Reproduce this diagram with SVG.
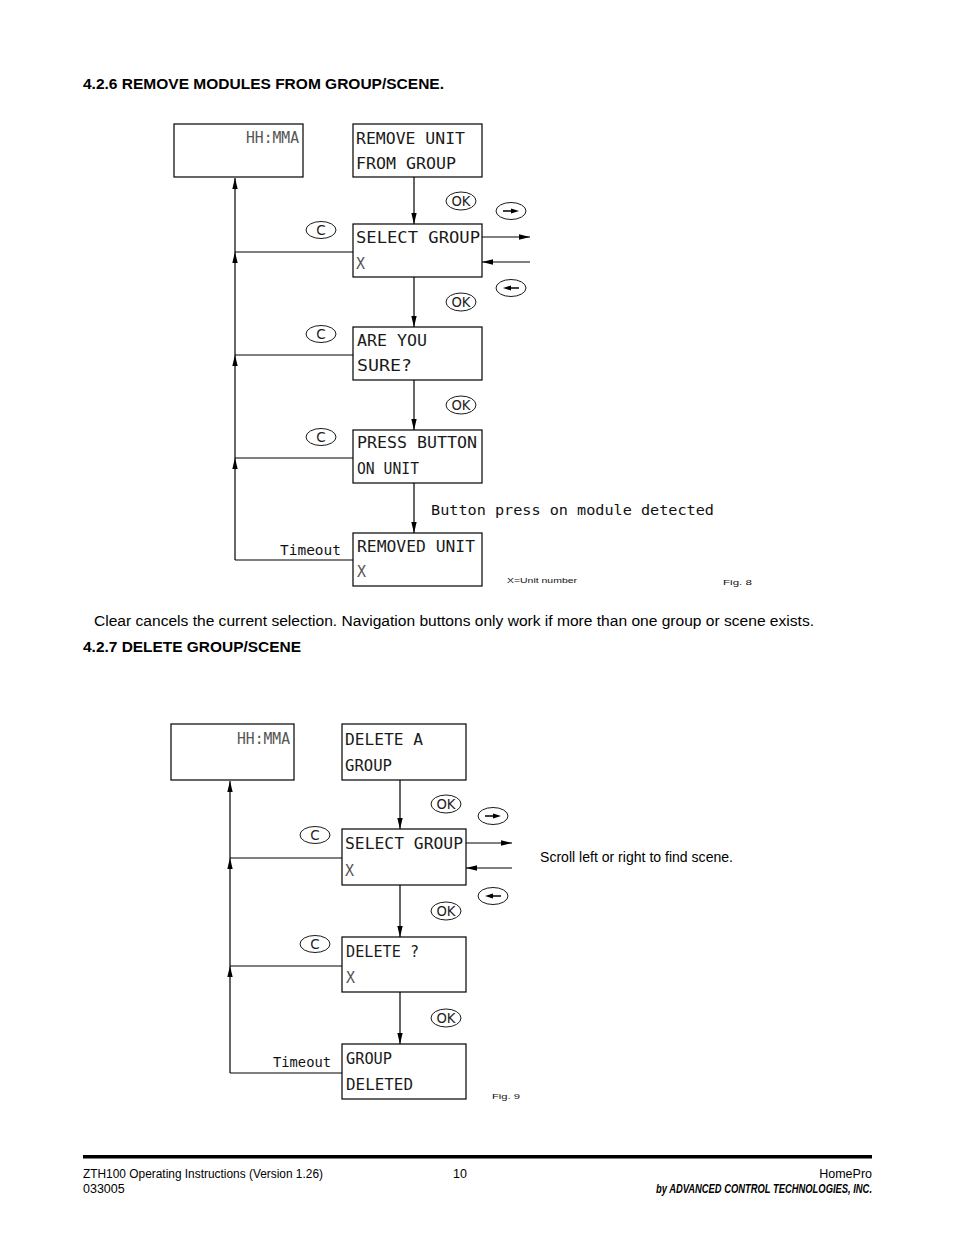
<svg xmlns="http://www.w3.org/2000/svg" width="954" height="1235" viewBox="0 0 954 1235">
<style>
.box{fill:#fff;stroke:#000;stroke-width:1.2}
.ln{fill:none;stroke:#000;stroke-width:1.2}
.arr{fill:none;stroke:#000;stroke-width:1.2;marker-end:url(#ah)}
.cad{font-family:"DejaVu Sans Mono",monospace;font-size:16px;fill:#1a1a1a}
.thin{font-family:"DejaVu Sans Mono",monospace;font-size:15px;fill:#555}
.lbl{font-family:"DejaVu Sans Mono",monospace;font-size:14px;fill:#111}
.btn{fill:#fff;stroke:#000;stroke-width:0.9}
.btxt{font-family:"DejaVu Sans",sans-serif;font-size:13.5px;fill:#222;text-anchor:middle}
.small{font-family:"Liberation Sans",Arial,sans-serif;font-size:8px;fill:#111}
.h{font-family:"Liberation Sans",Arial,sans-serif;font-size:14px;font-weight:bold;fill:#000}
.body{font-family:"Liberation Sans",Arial,sans-serif;font-size:14px;fill:#000}
.foot{font-family:"Liberation Sans",Arial,sans-serif;font-size:12.5px;fill:#000}
</style>
<defs>
<marker id="ah" markerUnits="userSpaceOnUse" markerWidth="11" markerHeight="7" viewBox="0 0 11 7" refX="11" refY="3.5" orient="auto">
<path d="M0,0.8 L11,3.5 L0,6.2 z" fill="#000"/>
</marker>
<g id="okb"><ellipse cx="0" cy="0" rx="15" ry="9" class="btn"/><text x="0" y="5" class="btxt" textLength="19" lengthAdjust="spacingAndGlyphs">OK</text></g>
<g id="cb"><ellipse cx="0" cy="0" rx="15" ry="8.5" class="btn"/><text x="0" y="5" class="btxt">C</text></g>
<g id="rb"><ellipse cx="0" cy="0" rx="15" ry="8.5" class="btn"/><path d="M-8,0 H2" stroke="#000" stroke-width="1.5"/><path d="M0,-2.5 L8,0 L0,2.5 z" fill="#000"/></g>
<g id="lb"><ellipse cx="0" cy="0" rx="15" ry="8.5" class="btn"/><path d="M-2,0 H8" stroke="#000" stroke-width="1.5"/><path d="M0,-2.5 L-8,0 L0,2.5 z" fill="#000"/></g>
</defs>
<rect width="954" height="1235" fill="#fff"/>

<text x="83" y="89" class="h" textLength="361" lengthAdjust="spacingAndGlyphs">4.2.6 REMOVE MODULES FROM GROUP/SCENE.</text>

<!-- Fig 8 connectors -->
<g id="fig8-connectors">
<path class="arr" d="M414,177 V224"/>
<path class="arr" d="M414,277 V327"/>
<path class="arr" d="M414,380 V430"/>
<path class="arr" d="M414,483 V533"/>
<path class="ln" d="M353,252 H235"/>
<path class="ln" d="M353,355 H235"/>
<path class="ln" d="M353,458 H235"/>
<path class="ln" d="M353,560 H235"/>
<path class="arr" d="M235,560 V458"/>
<path class="arr" d="M235,458 V355"/>
<path class="arr" d="M235,355 V252"/>
<path class="arr" d="M235,252 V178"/>
<path class="arr" d="M482,237 H530"/>
<path class="arr" d="M530,262 H482"/>
</g>
<g id="fig8-buttons">
<use href="#okb" x="461" y="201"/>
<use href="#okb" x="461" y="302"/>
<use href="#okb" x="461" y="405"/>
<use href="#cb" x="321" y="230"/>
<use href="#cb" x="321" y="334"/>
<use href="#cb" x="321" y="437"/>
<use href="#rb" x="511" y="211"/>
<use href="#lb" x="511" y="288"/>
</g>
<g id="f8-clock"><rect class="box" x="174" y="124" width="129" height="53"/><text x="299" y="143" class="thin" text-anchor="end" textLength="53" lengthAdjust="spacingAndGlyphs">HH:MMA</text></g>
<g id="f8-remove"><rect class="box" x="353" y="124" width="129" height="53"/><text x="356" y="144" class="cad" textLength="109" lengthAdjust="spacingAndGlyphs">REMOVE UNIT</text><text x="356" y="169" class="cad" textLength="100" lengthAdjust="spacingAndGlyphs">FROM GROUP</text></g>
<g id="f8-select"><rect class="box" x="353" y="224" width="129" height="53"/><text x="356" y="243" class="cad" textLength="124" lengthAdjust="spacingAndGlyphs">SELECT GROUP</text><text x="356" y="269" class="thin">X</text></g>
<g id="f8-sure"><rect class="box" x="353" y="327" width="129" height="53"/><text x="357" y="346" class="cad" textLength="70" lengthAdjust="spacingAndGlyphs">ARE YOU</text><text x="357" y="371" class="cad" textLength="55" lengthAdjust="spacingAndGlyphs">SURE?</text></g>
<g id="f8-press"><rect class="box" x="353" y="430" width="129" height="53"/><text x="357" y="448" class="cad" textLength="120" lengthAdjust="spacingAndGlyphs">PRESS BUTTON</text><text x="357" y="474" class="cad" textLength="62" lengthAdjust="spacingAndGlyphs">ON UNIT</text></g>
<g id="f8-removed"><rect class="box" x="353" y="533" width="129" height="53"/><text x="357" y="552" class="cad" textLength="118" lengthAdjust="spacingAndGlyphs">REMOVED UNIT</text><text x="357" y="577" class="thin">X</text></g>
<text x="280" y="555" class="lbl" textLength="61" lengthAdjust="spacingAndGlyphs">Timeout</text>
<text x="431" y="515" class="lbl" textLength="283" lengthAdjust="spacingAndGlyphs">Button press on module detected</text>
<text x="507" y="583" class="small" textLength="70" lengthAdjust="spacingAndGlyphs">X=Unit number</text>
<text x="723" y="585" class="small" textLength="29" lengthAdjust="spacingAndGlyphs">Fig. 8</text>

<text x="94" y="626" class="body" textLength="720" lengthAdjust="spacingAndGlyphs">Clear cancels the current selection.  Navigation buttons only work if more than one group or scene exists.</text>
<text x="83" y="652" class="h" textLength="218" lengthAdjust="spacingAndGlyphs">4.2.7 DELETE GROUP/SCENE</text>

<!-- Fig 9 connectors -->
<g id="fig9-connectors">
<path class="arr" d="M400,780 V829"/>
<path class="arr" d="M400,885 V937"/>
<path class="arr" d="M400,992 V1044"/>
<path class="ln" d="M342,858 H230"/>
<path class="ln" d="M342,966 H230"/>
<path class="ln" d="M342,1073 H230"/>
<path class="arr" d="M230,1073 V966"/>
<path class="arr" d="M230,966 V858"/>
<path class="arr" d="M230,858 V781"/>
<path class="arr" d="M466,843 H512"/>
<path class="arr" d="M512,868 H466"/>
</g>
<g id="fig9-buttons">
<use href="#okb" x="446" y="804"/>
<use href="#okb" x="446" y="911"/>
<use href="#okb" x="446" y="1018"/>
<use href="#cb" x="315" y="835"/>
<use href="#cb" x="315" y="944"/>
<use href="#rb" x="493" y="816"/>
<use href="#lb" x="493" y="896"/>
</g>
<g id="f9-clock"><rect class="box" x="171" y="724" width="123" height="56"/><text x="290" y="744" class="thin" text-anchor="end" textLength="53" lengthAdjust="spacingAndGlyphs">HH:MMA</text></g>
<g id="f9-delete"><rect class="box" x="342" y="724" width="124" height="56"/><text x="345" y="745" class="cad" textLength="78" lengthAdjust="spacingAndGlyphs">DELETE A</text><text x="345" y="771" class="cad" textLength="47" lengthAdjust="spacingAndGlyphs">GROUP</text></g>
<g id="f9-select"><rect class="box" x="342" y="829" width="124" height="56"/><text x="345" y="849" class="cad" textLength="118" lengthAdjust="spacingAndGlyphs">SELECT GROUP</text><text x="345" y="876" class="thin">X</text></g>
<g id="f9-confirm"><rect class="box" x="342" y="937" width="124" height="55"/><text x="346" y="957" class="cad" textLength="73" lengthAdjust="spacingAndGlyphs">DELETE ?</text><text x="346" y="983" class="thin">X</text></g>
<g id="f9-deleted"><rect class="box" x="342" y="1044" width="124" height="55"/><text x="346" y="1064" class="cad" textLength="46" lengthAdjust="spacingAndGlyphs">GROUP</text><text x="346" y="1090" class="cad" textLength="67" lengthAdjust="spacingAndGlyphs">DELETED</text></g>
<text x="273" y="1067" class="lbl" textLength="58" lengthAdjust="spacingAndGlyphs">Timeout</text>
<text x="540" y="862" class="body" font-size="13" textLength="193" lengthAdjust="spacingAndGlyphs">Scroll left or right to find scene.</text>
<text x="492" y="1099" class="small" textLength="28" lengthAdjust="spacingAndGlyphs">Fig. 9</text>

<!-- footer -->
<rect x="83" y="1155" width="789" height="3.5" fill="#000"/>
<text x="83" y="1178" class="foot" textLength="240" lengthAdjust="spacingAndGlyphs">ZTH100 Operating Instructions (Version 1.26)</text>
<text x="83" y="1193" class="foot">033005</text>
<text x="453" y="1178" class="foot">10</text>
<text x="872" y="1178" class="foot" text-anchor="end">HomePro</text>
<text x="872" y="1193" class="foot" font-size="9.5" font-weight="bold" font-style="italic" text-anchor="end" textLength="216" lengthAdjust="spacingAndGlyphs">by ADVANCED CONTROL TECHNOLOGIES, INC.</text>
</svg>
